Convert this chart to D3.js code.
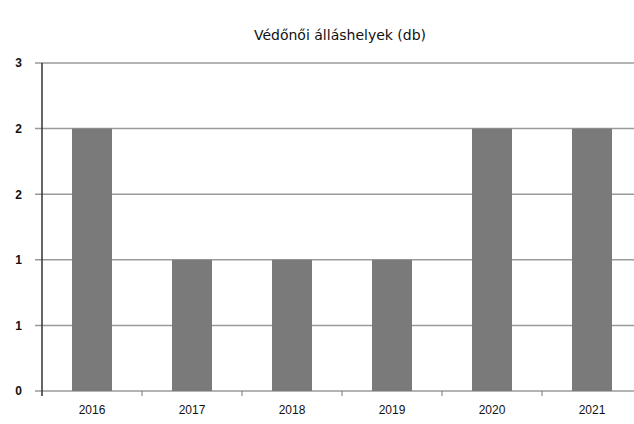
<!DOCTYPE html>
<html>
<head>
<meta charset="utf-8">
<script src="https://cdn.jsdelivr.net/npm/d3@7"></script>
<style>
  body { margin: 0; background: #fff; }
  svg { display: block; font-family: "DejaVu Sans", sans-serif; }
</style>
</head>
<body>
<svg width="634" height="424"></svg>
<script>
const years = ["2016", "2017", "2018", "2019", "2020", "2021"];
const values = [2, 1, 1, 1, 2, 2];
const yTicks = [0, 0.5, 1, 1.5, 2, 2.5];
const title = "Védőnői álláshelyek (db)";

const svg = d3.select("svg");
const margin = { top: 63, left: 42, bottom: 33 };
const height = +svg.attr("height");
const innerHeight = height - margin.top - margin.bottom;

const x = d3.scaleBand()
  .domain(years)
  .range([margin.left, margin.left + 600])
  .paddingInner(0.6)
  .paddingOuter(0.3);

const y = d3.scaleLinear()
  .domain([0, 2.5])
  .range([margin.top + innerHeight, margin.top]);

// gridlines
svg.append("g")
  .selectAll("line")
  .data(yTicks)
  .join("line")
  .attr("x1", margin.left - 7)
  .attr("x2", 634)
  .attr("y1", d => y(d))
  .attr("y2", d => y(d))
  .attr("stroke", "#9a9a9a")
  .attr("stroke-width", 1.5);

// bars
svg.append("g")
  .selectAll("rect")
  .data(values)
  .join("rect")
  .attr("x", (d, i) => x(years[i]))
  .attr("width", x.bandwidth())
  .attr("y", d => y(d))
  .attr("height", d => y(0) - y(d))
  .attr("fill", "#7a7a7a");

// y axis
const yAxis = d3.axisLeft(y)
  .tickValues(yTicks)
  .tickFormat(d => Math.round(d))
  .tickSize(0)
  .tickPadding(20);
const yAxisG = svg.append("g")
  .attr("transform", `translate(${margin.left},0)`)
  .call(yAxis);
yAxisG.select(".domain").remove();
yAxisG.append("line")
  .attr("y1", y(2.5))
  .attr("y2", y(0) + 5)
  .attr("stroke", "#333")
  .attr("stroke-width", 1.5);
yAxisG.selectAll(".tick text")
  .attr("font-size", 12)
  .attr("fill", "#111")
  .style("font-weight", "bold");

// x axis
const xAxis = d3.axisBottom(x).tickSize(0).tickPadding(14);
const xAxisG = svg.append("g")
  .attr("transform", `translate(0,${y(0)})`)
  .call(xAxis);
xAxisG.select(".domain").remove();
xAxisG.selectAll(".tick text")
  .attr("font-size", 12)
  .attr("fill", "#111");
// small marks between categories
xAxisG.selectAll(".sep")
  .data(years.slice(1))
  .join("line")
  .attr("class", "sep")
  .attr("x1", d => x(d) - x.step() * x.paddingInner() / 2)
  .attr("x2", d => x(d) - x.step() * x.paddingInner() / 2)
  .attr("y1", 0)
  .attr("y2", 5)
  .attr("stroke", "#777");

// title
svg.append("text")
  .attr("x", 340)
  .attr("y", 40)
  .attr("text-anchor", "middle")
  .attr("font-size", 14)
  .attr("fill", "#111")
  .text(title);
</script>
</body>
</html>
